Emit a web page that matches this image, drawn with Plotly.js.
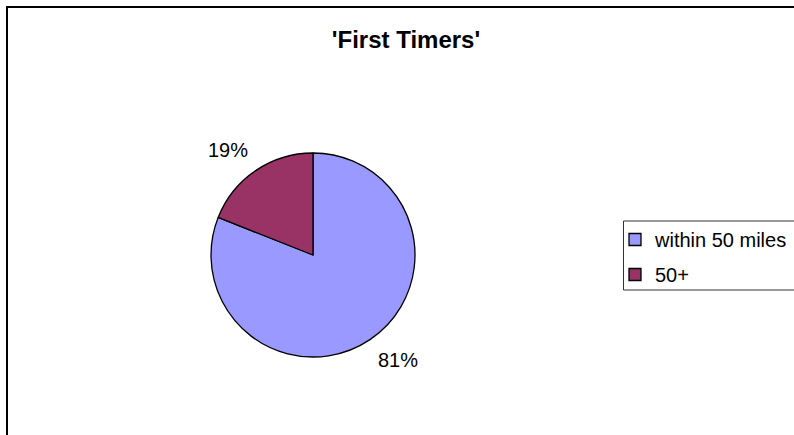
<!DOCTYPE html>
<html>
<head>
<meta charset="utf-8">
<script src="https://cdn.plot.ly/plotly-3.0.1.min.js"></script>
<style>
  html, body { margin: 0; padding: 0; background: #ffffff; }
  #chart { width: 794px; height: 435px; }
</style>
</head>
<body>
<div id="chart"></div>
<script>
const categories = ['within 50 miles', '50+'];
const values = [81, 19];
const sliceColors = ['#9999FF', '#993366'];
const chartTitle = "'First Timers'";

const W = 794, H = 435;
const cx = 313, cy = 255, r = 102;
const FONT = 'Liberation Sans, Arial, sans-serif';

const pieDomain = {
  x: [(cx - r) / W, (cx + r) / W],
  y: [(H - cy - r) / H, (H - cy + r) / H]
};

// Legend-only helper pies (one per category) hidden behind the main pie,
// so that each legend entry gets its own group gap.
const legendTraces = categories.map((c, i) => ({
  type: 'pie',
  labels: [c],
  values: [values[i]],
  marker: { colors: [sliceColors[i]], line: { color: '#000000', width: 1.3 } },
  textinfo: 'none',
  hoverinfo: 'none',
  legendgroup: 'g' + i,
  showlegend: true,
  domain: { x: [(cx - 2) / W, (cx + 2) / W], y: [(H - cy - 2) / H, (H - cy + 2) / H] }
}));

const mainTrace = {
  type: 'pie',
  labels: categories,
  values: values,
  sort: false,
  direction: 'clockwise',
  rotation: 0,
  marker: { colors: sliceColors, line: { color: '#000000', width: 1.3 } },
  textinfo: 'none',
  hoverinfo: 'none',
  showlegend: false,
  domain: pieDomain,
  automargin: false
};

// Percent labels placed outside each slice, computed from the values.
const total = values.reduce((a, b) => a + b, 0);
const gap = 11;
let cum = 0;
const labelAnnotations = values.map((v) => {
  const mid = (cum + v / 2) / total * 2 * Math.PI; // clockwise from top
  cum += v;
  const dx = Math.sin(mid), dy = -Math.cos(mid);
  const px = cx + dx * (r + gap);
  const py = cy + dy * (r + gap);
  return {
    text: Math.round(v / total * 100) + '%',
    xref: 'paper', yref: 'paper',
    x: px / W, y: 1 - py / H,
    xanchor: dx < 0 ? 'right' : 'left',
    yanchor: dy < 0 ? 'bottom' : 'top',
    showarrow: false,
    borderpad: 0,
    font: { family: FONT, size: 20, color: '#000000' }
  };
});

const layout = {
  width: W, height: H,
  margin: { l: 0, r: 0, t: 0, b: 0, autoexpand: false },
  paper_bgcolor: '#ffffff',
  font: { family: FONT, color: '#000000' },
  title: {
    text: chartTitle,
    font: { family: FONT, size: 24, color: '#000000', weight: 'bold' },
    x: 406 / W, xanchor: 'center', xref: 'paper',
    y: 1 - 40 / H, yanchor: 'middle', yref: 'paper'
  },
  showlegend: true,
  legend: {
    x: 615 / W, xanchor: 'left',
    y: 1 - 220 / H, yanchor: 'top',
    bgcolor: 'rgba(0,0,0,0)',
    borderwidth: 0,
    tracegroupgap: 6,
    font: { family: FONT, size: 20, color: '#000000' }
  },
  annotations: labelAnnotations,
  shapes: [
    {
      type: 'rect', xref: 'paper', yref: 'paper',
      x0: 7 / W, x1: 1.2, y0: -0.2, y1: 1 - 7 / H,
      line: { color: '#000000', width: 2 }, fillcolor: 'rgba(0,0,0,0)', layer: 'below'
    },
    {
      type: 'rect', xref: 'paper', yref: 'paper',
      x0: 623.5 / W, x1: 1.2, y0: 1 - 290 / H, y1: 1 - 221 / H,
      line: { color: '#333333', width: 1 }, fillcolor: '#ffffff', layer: 'below'
    }
  ]
};

Plotly.newPlot('chart', legendTraces.concat([mainTrace]), layout, { staticPlot: true, displayModeBar: false });
</script>
</body>
</html>
